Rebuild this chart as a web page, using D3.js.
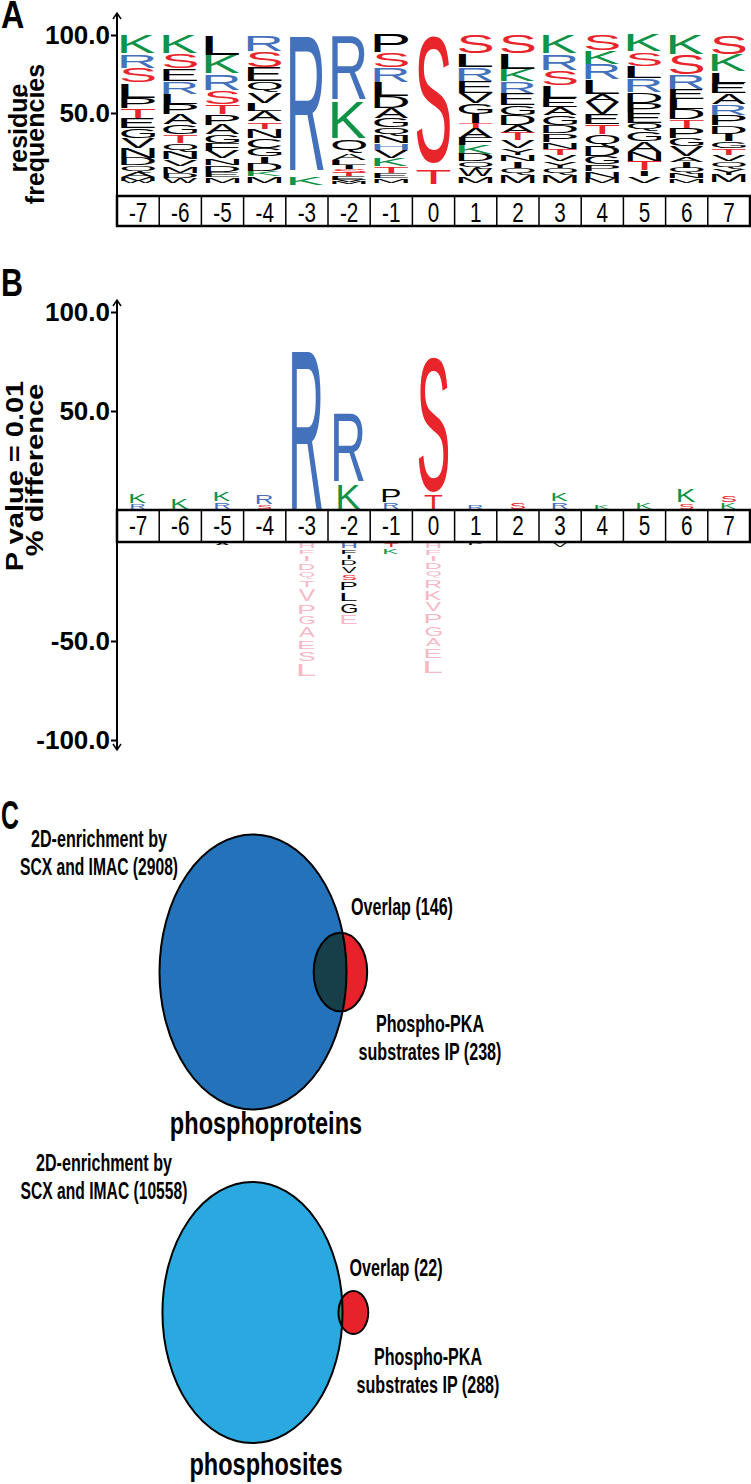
<!DOCTYPE html>
<html>
<head>
<meta charset="utf-8">
<script src="https://cdn.jsdelivr.net/npm/d3@7"></script>
<style>
  body { margin: 0; background: #fff; }
  svg { display: block; }
  text { font-family: "Liberation Sans", Arial, sans-serif; }
</style>
</head>
<body>
<div id="fig"></div>
<script>
// positions around the phosphosite
const positions = [-7, -6, -5, -4, -3, -2, -1, 0, 1, 2, 3, 4, 5, 6, 7];

// panel A: residue frequencies (%), each column listed top to bottom
const freqA = [
  [["K",12.4],["R",9],["S",9.6],["L",9.6],["P",6.4],["T",6.4],["E",6.4],["G",6.4],["V",6.4],["N",6.4],["D",4.7],["Q",4.3],["A",3.2],["M",2.4],["W",1.5]],
  [["K",12.4],["S",9.4],["E",8.1],["R",8.1],["L",6.8],["P",6.4],["A",6.4],["G",6.4],["T",5.3],["Q",5.8],["N",4.9],["V",4.3],["M",4.3],["D",3.2],["W",3.2]],
  [["L",13.2],["K",11.8],["R",10.7],["S",9.2],["T",6.4],["P",6.4],["A",6.4],["G",5.3],["F",5.3],["V",4.7],["N",4.3],["D",4.3],["E",3.4],["M",3.6]],
  [["R",10.7],["S",10.3],["E",9],["Q",6.8],["V",7.1],["L",5.3],["A",6.4],["T",4.7],["N",6],["C",6.4],["G",5.3],["I",4.3],["D",5.3],["K",3.2],["M",4.3]],
  [["R",90.8],["K",5.3]],
  [["R",43.2],["K",24.1],["Q",8.5],["A",4.3],["L",3.6],["I",2.1],["S",2.8],["T",2.1],["E",2.1],["V",1.5],["M",1.3]],
  [["P",11.8],["S",9.6],["R",9.2],["L",9],["D",7.5],["A",6.4],["G",5.8],["Q",5.6],["N",4.7],["H",4.3],["V",5.3],["K",5.3],["T",4.3],["E",3.2],["M",2.8]],
  [["S",86.5],["T",9.6]],
  [["S",12.4],["L",8.5],["R",9],["E",7.5],["V",6.4],["G",7.1],["I",5.8],["T",3.2],["A",6.4],["F",4.7],["K",5.6],["D",4.7],["Q",4.3],["W",5.3],["M",4.3]],
  [["S",12.4],["L",10],["K",7.5],["R",8.1],["E",7.3],["G",6.4],["D",6.4],["A",4.9],["T",4.9],["V",4.7],["Y",4.3],["N",4.3],["I",4.3],["Q",4.3],["M",5.3]],
  [["K",12.4],["R",10.5],["S",9.6],["L",8.1],["E",5.8],["A",5.3],["G",6.4],["D",5.3],["P",5.3],["N",4.3],["T",4.3],["V",3.8],["Y",4.3],["Q",4.3],["M",5.3]],
  [["S",10.3],["K",8.5],["R",10],["L",9.6],["A",4.7],["V",7.7],["E",6.8],["T",6.4],["Q",7.5],["D",6.4],["G",5.3],["P",4.3],["N",4.3],["M",3.2]],
  [["K",11.1],["S",9.2],["L",7.9],["R",8.5],["D",7.1],["P",6.4],["E",6.4],["Q",5.3],["G",6.4],["A",6.8],["N",6],["T",6],["I",3.6],["V",4.3]],
  [["K",12.8],["S",13.2],["R",9.2],["E",6.4],["L",6.4],["D",6.4],["T",5.3],["P",6.4],["G",5.3],["V",6.4],["A",3.6],["I",3.8],["Q",3.8],["N",3],["M",2.8]],
  [["S",12.8],["K",11.1],["L",7.1],["E",6.4],["A",7.1],["R",7.3],["P",6.4],["D",5.3],["I",4.9],["G",4.3],["T",4.3],["V",4.3],["Q",4.3],["Y",4.3],["M",4.7]]
];

// panel B: enriched residues (% difference), top to bottom
const enrichedB = [
  [["K",5.7],["R",3]],
  [["K",6]],
  [["K",5.6],["R",4.2]],
  [["R",5.6],["S",2.4]],
  [["R",82]],
  [["R",36.5],["K",14]],
  [["P",8],["R",3.6]],
  [["S",70.5],["T",8.6]],
  [["R",2.6]],
  [["S",4.2]],
  [["K",4.8],["R",4.2]],
  [["K",2.6]],
  [["K",3.9]],
  [["K",8.2],["S",3.6]],
  [["S",4.1],["K",3.6]]
];

// panel B: depleted residues (% difference), from the axis downward; third value = significant
const depletedB = [
  [],
  [],
  [["A",1.6,true]],
  [],
  [["H",3.4,false],["F",3,false],["I",3.7,false],["D",4.7,false],["Q",4.2,false],["T",4.2,false],["V",7.9,false],["P",5.9,false],["G",5.4,false],["A",6.7,false],["E",5.6,false],["S",6.2,false],["L",8.1,false]],
  [["H",3.4,true],["F",3,true],["I",2.5,true],["D",3.2,true],["V",4.2,true],["S",3.5,true],["P",5.4,true],["L",5.4,true],["G",5.9,true],["E",5.9,false]],
  [["T",2.9,true],["K",3.5,true]],
  [["H",3.4,false],["F",3.4,false],["I",3.4,false],["D",4.2,false],["Q",4.2,false],["R",5.4,false],["K",5.9,false],["V",5.9,false],["P",5.9,false],["G",6.7,false],["A",5,false],["E",5.9,false],["L",8.1,false]],
  [["P",2,true]],
  [],
  [["V",2.8,true]],
  [],
  [],
  [],
  []
];

const ticksA = [50, 100];
const ticksB = [-100, -50, 50, 100];

// panel C: Venn counts [enrichment, PKA substrate IP, overlap]
const proteinCounts = [2908, 238, 146];
const siteCounts = [10558, 288, 22];
const proteinLabels = ["2D-enrichment by", "SCX and IMAC (2908)", "Overlap (146)", "Phospho-PKA", "substrates IP (238)", "phosphoproteins"];
const siteLabels = ["2D-enrichment by", "SCX and IMAC (10558)", "Overlap (22)", "Phospho-PKA", "substrates IP (288)", "phosphosites"];

const W = 751, H = 1484;
const FONT = "Liberation Sans";
const colorOf = { K: "#0f9447", R: "#4471bb", H: "#4471bb", S: "#e8252b", T: "#e8252b" };
const faded = "#f6b8c5";

const svg = d3.select("#fig").append("svg")
  .attr("width", W)
  .attr("height", H);

// glyph metrics from canvas, so letters can be stretched to fill a box
const ctx = document.createElement("canvas").getContext("2d");
const FS = 100;
ctx.font = FS + "px '" + FONT + "'";
const metrics = {};
function glyph(ch) {
  if (!metrics[ch]) {
    const m = ctx.measureText(ch);
    metrics[ch] = { l: m.actualBoundingBoxLeft, r: m.actualBoundingBoxRight, a: m.actualBoundingBoxAscent, d: m.actualBoundingBoxDescent };
  }
  return metrics[ch];
}
function drawLetter(g, ch, cx, y0, w, h, color) {
  if (h < 0.4) return;
  if (ch === "I") w = Math.min(w, Math.max(2, w * 0.22));
  const m = glyph(ch);
  const sx = w / (m.l + m.r), sy = h / (m.a + m.d);
  g.append("text")
    .attr("transform", `translate(${cx - w / 2 + m.l * sx},${y0 + m.a * sy}) scale(${sx},${sy})`)
    .attr("font-size", FS)
    .attr("font-family", FONT)
    .attr("fill", color)
    .text(ch);
}

function boldText(g, str, x, y, size, sx, anchor) {
  return g.append("text")
    .attr("transform", `translate(${x},${y}) scale(${sx},1)`)
    .attr("text-anchor", anchor || "middle")
    .attr("font-weight", "bold")
    .attr("font-size", size)
    .text(str);
}

const x = d3.scaleBand().domain(positions).range([117, 750]);
const bw = x.bandwidth();

function labelBox(g, top, bottom, baseline) {
  g.append("rect")
    .attr("x", x.range()[0]).attr("y", top)
    .attr("width", x.range()[1] - x.range()[0]).attr("height", bottom - top)
    .attr("fill", "none").attr("stroke", "#000").attr("stroke-width", 2.5);
  g.selectAll("line.div").data(positions.slice(1)).enter().append("line")
    .attr("x1", d => x(d)).attr("x2", d => x(d))
    .attr("y1", top).attr("y2", bottom)
    .attr("stroke", "#000").attr("stroke-width", 1.5);
  g.selectAll("text.pos").data(positions).enter().append("text")
    .attr("transform", d => `translate(${x(d) + bw / 2},${baseline}) scale(0.74,1)`)
    .attr("text-anchor", "middle")
    .attr("font-size", 28)
    .text(d => d);
}

function styleAxis(g) {
  g.select(".domain").remove();
  g.selectAll(".tick line").attr("stroke", "#000").attr("stroke-width", 2);
  g.selectAll(".tick text")
    .attr("font-family", FONT)
    .attr("font-weight", "bold")
    .attr("font-size", 26)
    .attr("fill", "#000");
}

function axisLine(g, y1, y2) {
  g.append("line").attr("x1", 117).attr("x2", 117).attr("y1", y1).attr("y2", y2)
    .attr("stroke", "#000").attr("stroke-width", 2);
}
function arrow(g, y, dir) {
  g.append("path")
    .attr("d", `M113,${y + 6 * dir}L117,${y}L121,${y + 6 * dir}`)
    .attr("fill", "none").attr("stroke", "#000").attr("stroke-width", 1.5);
}

// ---------- panel A ----------
const gA = svg.append("g");
const yA = d3.scaleLinear().domain([0, 100]).range([191, 35]);

gA.append("g")
  .attr("transform", "translate(117,0)")
  .call(d3.axisLeft(yA).tickValues(ticksA).tickFormat(d => d.toFixed(1)).tickSize(6).tickPadding(1))
  .call(styleAxis);
axisLine(gA, 13, 196);
arrow(gA, 13, 1);

positions.forEach((p, i) => {
  let top = 100;
  freqA[i].forEach(([ch, v]) => {
    const y0 = yA(top), y1 = yA(top - v);
    drawLetter(gA, ch, x(p) + bw / 2, y0, bw * 0.8, (y1 - y0) * 0.95, colorOf[ch] || "#000");
    top -= v;
  });
});
labelBox(gA, 196, 226, 222);

gA.append("text").attr("transform", "translate(27,128) rotate(-90)")
  .attr("text-anchor", "middle").attr("font-weight", "bold").attr("font-size", 25).text("residue");
gA.append("text").attr("transform", "translate(44,134) rotate(-90)")
  .attr("text-anchor", "middle").attr("font-weight", "bold").attr("font-size", 25).text("frequencies");
boldText(gA, "A", 1, 28, 38, 0.85, "start");

// ---------- panel B ----------
const gB = svg.append("g");
const yUp = d3.scaleLinear().domain([0, 100]).range([510, 312]);
const yDown = d3.scaleLinear().domain([0, -100]).range([542, 740]);

gB.append("g")
  .attr("transform", "translate(117,0)")
  .call(d3.axisLeft(yUp).tickValues(ticksB.filter(d => d > 0)).tickFormat(d => d.toFixed(1)).tickSize(6).tickPadding(1))
  .call(styleAxis);
gB.append("g")
  .attr("transform", "translate(117,0)")
  .call(d3.axisLeft(yDown).tickValues(ticksB.filter(d => d < 0)).tickFormat(d => d.toFixed(1)).tickSize(6).tickPadding(1))
  .call(styleAxis);
axisLine(gB, 300, 510);
axisLine(gB, 542, 750);
arrow(gB, 300, 1);
arrow(gB, 750, -1);

const widthB = hpx => Math.min(30, 12 + hpx * 0.4);
positions.forEach((p, i) => {
  const cx = x(p) + bw / 2;
  // enriched, stacked from the box upward (list is top to bottom)
  let base = 0;
  enrichedB[i].slice().reverse().forEach(([ch, v]) => {
    const yb = yUp(base), yt = yUp(base + v);
    const slot = yb - yt;
    const h = slot - Math.min(3, slot * 0.2);
    drawLetter(gB, ch, cx, yb - h - 1, widthB(h), h, colorOf[ch] || "#000");
    base += v;
  });
  // depleted, stacked from the box downward
  let depth = 0;
  depletedB[i].forEach(([ch, v, sig]) => {
    const yt = yDown(-depth), yb = yDown(-(depth + v));
    const slot = yb - yt;
    const h = slot * 0.72;
    const col = sig ? (colorOf[ch] || "#000") : faded;
    drawLetter(gB, ch, cx, yt + (slot - h) / 2, widthB(h), h, col);
    depth += v;
  });
});
labelBox(gB, 510, 542, 535);

gB.append("text").attr("transform", "translate(23,476) rotate(-90) scale(1,0.8)")
  .attr("text-anchor", "middle").attr("font-weight", "bold").attr("font-size", 29).text("P value = 0.01");
gB.append("text").attr("transform", "translate(43,470) rotate(-90) scale(1,0.8)")
  .attr("text-anchor", "middle").attr("font-weight", "bold").attr("font-size", 29).text("% difference");
boldText(gB, "B", 1, 296, 38, 0.8, "start");

// ---------- panel C ----------
function lensArea(R, r, d) {
  if (d >= R + r) return 0;
  if (d <= Math.abs(R - r)) return Math.PI * Math.min(R, r) ** 2;
  const a = r * r * Math.acos((d * d + r * r - R * R) / (2 * d * r));
  const b = R * R * Math.acos((d * d + R * R - r * r) / (2 * d * R));
  const c = 0.5 * Math.sqrt((-d + r + R) * (d + r - R) * (d - r + R) * (d + r + R));
  return a + b - c;
}
function centreDistance(R, r, target) {
  let lo = R - r, hi = R + r;
  for (let k = 0; k < 60; k++) {
    const mid = (lo + hi) / 2;
    if (lensArea(R, r, mid) > target) lo = mid; else hi = mid;
  }
  return (lo + hi) / 2;
}

let clipId = 0;
function venn(g, counts, labels, cx, cy, bigR, aspect, colBig, colOverlap, lay) {
  const r = d3.scaleSqrt().domain([0, counts[0]]).range([0, bigR]);
  const R1 = r(counts[0]), R2 = r(counts[1]);
  const d = centreDistance(R1, R2, counts[2] / counts[1] * Math.PI * R2 * R2);
  const cx2 = cx + d * aspect;
  const id = "clip" + (clipId++);
  g.append("clipPath").attr("id", id).append("ellipse")
    .attr("cx", cx).attr("cy", cy).attr("rx", R1 * aspect).attr("ry", R1);
  g.append("ellipse").attr("cx", cx).attr("cy", cy).attr("rx", R1 * aspect).attr("ry", R1).attr("fill", colBig);
  g.append("ellipse").attr("cx", cx2).attr("cy", cy).attr("rx", R2 * aspect).attr("ry", R2).attr("fill", "#e8222a");
  g.append("ellipse").attr("cx", cx2).attr("cy", cy).attr("rx", R2 * aspect).attr("ry", R2)
    .attr("fill", colOverlap).attr("clip-path", `url(#${id})`);
  g.append("ellipse").attr("cx", cx).attr("cy", cy).attr("rx", R1 * aspect).attr("ry", R1)
    .attr("fill", "none").attr("stroke", "#000").attr("stroke-width", 2);
  g.append("ellipse").attr("cx", cx2).attr("cy", cy).attr("rx", R2 * aspect).attr("ry", R2)
    .attr("fill", "none").attr("stroke", "#000").attr("stroke-width", 2);

  boldText(g, labels[0], lay.set[0], lay.set[1], 23, 0.7);
  boldText(g, labels[1], lay.set[0], lay.set[1] + 28, 23, 0.68);
  boldText(g, labels[2], lay.ov[0], lay.ov[1], 23, 0.7);
  boldText(g, labels[3], lay.ip[0], lay.ip[1], 23, 0.7);
  boldText(g, labels[4], lay.ip[0], lay.ip[1] + 28, 23, 0.7);
  boldText(g, labels[5], lay.title[0], lay.title[1], 31, 0.76);
}

const gC = svg.append("g");
boldText(gC, "C", 1, 829, 40, 0.62, "start");
venn(gC, proteinCounts, proteinLabels, 253, 972, 137.5, 0.68, "#2372ba", "#173f4a",
  { set: [99, 847], ov: [402, 915], ip: [430, 1032], title: [266, 1134] });
venn(gC, siteCounts, siteLabels, 252.5, 1312.5, 130.5, 0.69, "#29a9e0", "#3f8f5c",
  { set: [104, 1171], ov: [396, 1276], ip: [428, 1365], title: [266, 1475] });
</script>
</body>
</html>
